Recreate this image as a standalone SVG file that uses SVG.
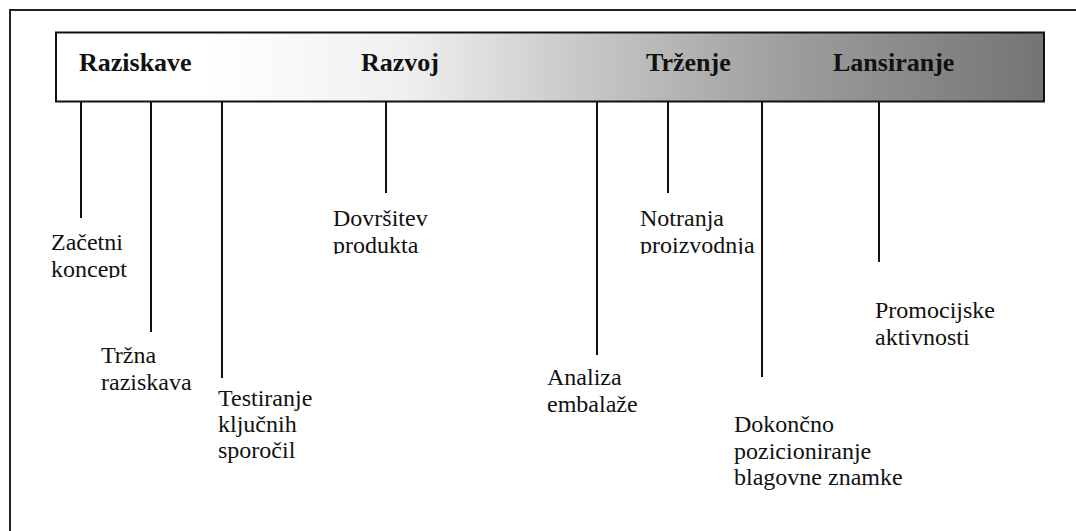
<svg xmlns="http://www.w3.org/2000/svg" width="1076" height="531" viewBox="0 0 1076 531">
  <defs>
    <linearGradient id="barFill" x1="0" y1="0" x2="1" y2="0">
      <stop offset="0" stop-color="#ffffff"/>
      <stop offset="0.15" stop-color="#ffffff"/>
      <stop offset="0.35" stop-color="#f0f0f0"/>
      <stop offset="0.55" stop-color="#c4c4c4"/>
      <stop offset="0.75" stop-color="#9c9c9c"/>
      <stop offset="1" stop-color="#747474"/>
    </linearGradient>
    <clipPath id="clipKoncept"><rect x="40" y="230" width="130" height="48"/></clipPath>
    <clipPath id="clipProdukta"><rect x="320" y="200" width="150" height="54"/></clipPath>
    <clipPath id="clipProizvodnja"><rect x="630" y="200" width="150" height="54"/></clipPath>
    <style>
      .frame { fill: none; stroke: #222; stroke-width: 2; }
      .bar { fill: url(#barFill); stroke: #111; stroke-width: 2; }
      .phase { font-weight: bold; font-size: 26px; fill: #111; }
      .label { font-size: 24px; fill: #111; }
      .tick { stroke: #111; stroke-width: 2; fill: none; }
    </style>
  </defs>

  <rect width="1076" height="531" fill="#ffffff"/>

  <!-- outer frame: top and left edges -->
  <path class="frame" d="M10 531 V10 H1076"/>

  <g font-family="'Liberation Serif', 'Times New Roman', Times, serif">
    <!-- phase bar -->
    <g id="phase-bar">
      <rect class="bar" x="56" y="32.5" width="988" height="69"/>
      <text class="phase" x="79" y="71">Raziskave</text>
      <text class="phase" x="361" y="71">Razvoj</text>
      <text class="phase" x="646" y="71">Trženje</text>
      <text class="phase" x="833" y="71">Lansiranje</text>
    </g>

    <!-- connectors from the bar down to each activity -->
    <g id="connectors">
      <line class="tick" x1="81" y1="101" x2="81" y2="218"/>
      <line class="tick" x1="151" y1="101" x2="151" y2="332"/>
      <line class="tick" x1="222" y1="101" x2="222" y2="378"/>
      <line class="tick" x1="386" y1="101" x2="386" y2="193"/>
      <line class="tick" x1="597" y1="101" x2="597" y2="355"/>
      <line class="tick" x1="668" y1="101" x2="668" y2="193"/>
      <line class="tick" x1="762" y1="101" x2="762" y2="377"/>
      <line class="tick" x1="879" y1="101" x2="879" y2="262"/>
    </g>

    <g id="zacetni-koncept">
      <text class="label" x="51" y="250">Začetni</text>
      <text class="label" x="51" y="276.5" clip-path="url(#clipKoncept)">koncept</text>
    </g>
    <g id="trzna-raziskava">
      <text class="label" x="101" y="363">Tržna</text>
      <text class="label" x="101" y="389.5">raziskava</text>
    </g>
    <g id="testiranje">
      <text class="label" x="218" y="406">Testiranje</text>
      <text class="label" x="218" y="432">ključnih</text>
      <text class="label" x="218" y="458">sporočil</text>
    </g>
    <g id="dovrsitev-produkta">
      <text class="label" x="333" y="226">Dovršitev</text>
      <text class="label" x="333" y="252.5" clip-path="url(#clipProdukta)">produkta</text>
    </g>
    <g id="analiza-embalaze">
      <text class="label" x="547" y="385">Analiza</text>
      <text class="label" x="547" y="412">embalaže</text>
    </g>
    <g id="notranja-proizvodnja">
      <text class="label" x="640" y="226">Notranja</text>
      <text class="label" x="640" y="252.5" clip-path="url(#clipProizvodnja)">proizvodnja</text>
    </g>
    <g id="dokoncno-pozicioniranje">
      <text class="label" x="734" y="432">Dokončno</text>
      <text class="label" x="734" y="458.5">pozicioniranje</text>
      <text class="label" x="734" y="485">blagovne znamke</text>
    </g>
    <g id="promocijske-aktivnosti">
      <text class="label" x="875" y="318">Promocijske</text>
      <text class="label" x="875" y="344.5">aktivnosti</text>
    </g>
  </g>
</svg>
